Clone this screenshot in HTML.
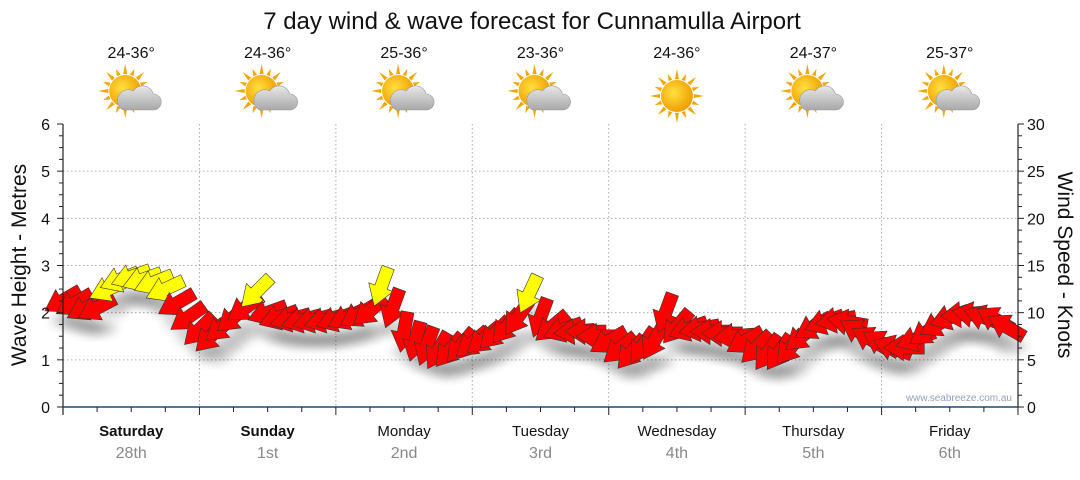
<!DOCTYPE html>
<html><head><meta charset="utf-8"><style>
html,body{margin:0;padding:0;background:#fff;}
body{width:1080px;height:475px;overflow:hidden;font-family:"Liberation Sans",sans-serif;}
</style></head><body>
<svg id="chart" width="1080" height="475" xmlns="http://www.w3.org/2000/svg">
<defs>
<radialGradient id="sung" cx="0.4" cy="0.4" r="0.6"><stop offset="0" stop-color="#ffe040"/><stop offset="1" stop-color="#f0a000"/></radialGradient>
<linearGradient id="cloudg" x1="0" y1="0" x2="0" y2="1"><stop offset="0" stop-color="#e8e8e8"/><stop offset="1" stop-color="#a8a8a8"/></linearGradient>
<filter id="sh" x="-50%" y="-50%" width="200%" height="200%"><feGaussianBlur stdDeviation="5"/></filter>
</defs>
<text x="532" y="29" font-size="24" text-anchor="middle" fill="#111">7 day wind &amp; wave forecast for Cunnamulla Airport</text>
<g id="grid"></g>
<g id="shadows"></g>
<g id="arrows"></g>
<g id="axes"></g>
<text x="1012" y="401" font-size="10" text-anchor="end" fill="#8fa3bd">www.seabreeze.com.au</text>
<text transform="translate(26,265) rotate(-90)" font-size="21" text-anchor="middle" fill="#111">Wave Height - Metres</text>
<text transform="translate(1058,265) rotate(90)" font-size="21" text-anchor="middle" fill="#111">Wind Speed - Knots</text>
</svg>
<script>
const days = ["Saturday","Sunday","Monday","Tuesday","Wednesday","Thursday","Friday"];
const dates = ["28th","1st","2nd","3rd","4th","5th","6th"];
const temps = ["24-36°","24-36°","25-36°","23-36°","24-36°","24-37°","25-37°"];
const icons = ["partly","partly","partly","partly","sunny","partly","partly"];
const waveTicks = [0,1,2,3,4,5,6];
const windTicks = [0,5,10,15,20,25,30];
// wind speed (knots), 2-hourly
const windSpeed = [
11.3,11,10.5,10.5,12.5,13.5,13.8,13.5,13.2,12.5,11,9.5,
8.2,7.5,8.5,9.5,10.5,12.2,10,9.5,9.3,9.2,9.2,9.2,
9.3,9.5,9.8,10.2,12.8,10.5,8,7,6.5,6,6,6.5,
6.8,7.2,7.8,8.5,9.5,12,9.5,8.5,8.2,8,8,7.5,
7,6.2,5.8,6.5,7,10,8.5,8.3,8.3,8,7.8,7.5,
7,6.3,5.8,5.8,6.3,7.5,8.5,9,9.2,9,8,7.2,
6.8,6.3,6.3,7.2,8,8.8,9.5,9.8,9.8,9.5,9.3,8.5];
// direction the arrow points (compass degrees, 180=south, 270=west)
const windDir = [
240,240,242,242,245,248,250,250,248,245,240,235,
225,225,230,230,235,225,250,250,255,255,255,255,
250,245,240,230,200,200,190,195,200,210,220,220,
230,230,225,220,215,205,200,230,250,265,270,270,
240,230,220,215,210,200,220,250,260,270,270,265,
240,225,215,215,220,230,240,250,260,280,300,300,
300,290,270,250,235,240,250,265,280,290,300,300];
const stepHours = 2;

const NS="http://www.w3.org/2000/svg";
const X0=63,X1=1018,Y0=407,Y1=124,totalH=168;
const xScale=h=>X0+(X1-X0)*h/totalH;
const yWave=v=>Y0-(Y0-Y1)*v/6;
const yWind=v=>Y0-(Y0-Y1)*v/30;
function mk(tag,attrs,parent){const e=document.createElementNS(NS,tag);for(const k in attrs)e.setAttribute(k,attrs[k]);parent.appendChild(e);return e;}
const svg=document.getElementById('chart');
const grid=document.getElementById('grid'),axes=document.getElementById('axes');
waveTicks.forEach(t=>{if(t>0&&t<6){const l=mk('line',{x1:X0,x2:X1,y1:yWave(t),y2:yWave(t),stroke:'#aaa','stroke-dasharray':'1.5,2.5'},grid);

}});
for(let d=1;d<7;d++){const x=xScale(d*24);const l=mk('line',{x1:x,x2:x,y1:Y1,y2:Y0,stroke:'#aaa','stroke-dasharray':'1.5,2.5'},grid);

}
mk('line',{x1:X0,x2:X0,y1:Y1,y2:Y0+8,stroke:'#222','stroke-width':1.2},axes);
mk('line',{x1:X1,x2:X1,y1:Y1,y2:Y0,stroke:'#222','stroke-width':1.2},axes);
mk('line',{x1:X0,x2:X1,y1:Y0,y2:Y0,stroke:'#1a4a7a','stroke-width':1.5},axes);
for(let v=0;v<=6.001;v+=0.25){const y=yWave(v);const major=Math.abs(v-Math.round(v))<0.01;mk('line',{x1:X0-(major?6:4),x2:X0,y1:y,y2:y,stroke:'#222'},axes);}
for(let v=0;v<=30.001;v+=1.25){const y=yWind(v);const major=Math.abs(v/5-Math.round(v/5))<0.01;mk('line',{x1:X1,x2:X1+(major?6:4),y1:y,y2:y,stroke:'#222'},axes);}
waveTicks.forEach(t=>{const e=mk('text',{x:50,y:yWave(t)+6,'font-size':16,'text-anchor':'end',fill:'#111'},axes);e.textContent=t;

});
windTicks.forEach(t=>{const e=mk('text',{x:1027,y:yWind(t)+6,'font-size':16,fill:'#111'},axes);e.textContent=t;

});
for(let h=0;h<=totalH;h+=6){const x=xScale(h);mk('line',{x1:x,x2:x,y1:Y0,y2:Y0+(h%24==0?8:5),stroke:'#222'},axes);}
days.forEach((d,i)=>{const cx=xScale(i*24+12);
const t=mk('text',{x:cx,y:436,'font-size':15,'text-anchor':'middle',fill:'#111','font-weight':i<2?'bold':'normal'},svg);t.textContent=d;


const dt=mk('text',{x:cx,y:458,'font-size':16,'text-anchor':'middle',fill:'#888'},svg);dt.textContent=dates[i];


const tp=mk('text',{x:cx,y:58,'font-size':16,'text-anchor':'middle',fill:'#111'},svg);tp.textContent=temps[i];


const g=mk('g',{transform:`translate(${cx},96)`},svg);


const sx=icons[i]=='sunny'?0:-6, sy=icons[i]=='sunny'?0:-5;
for(let a=0;a<16;a++){const ang=a*Math.PI/8;const r1=17,r2=a%2?24:27;
mk('polygon',{points:`${sx+Math.cos(ang-0.12)*r1},${sy+Math.sin(ang-0.12)*r1} ${sx+Math.cos(ang)*r2},${sy+Math.sin(ang)*r2} ${sx+Math.cos(ang+0.12)*r1},${sy+Math.sin(ang+0.12)*r1}`,fill:'#f3a500'},g);}
mk('circle',{cx:sx,cy:sy,r:16,fill:'url(#sung)'},g);
if(icons[i]!='sunny'){
mk('path',{d:'M-8,14 h30 a8,8 0 0 0 0,-16 a11,11 0 0 0 -20,-3 a8,8 0 0 0 -10,19 z',fill:'url(#cloudg)',stroke:'#999','stroke-width':0.6},g);}
});
const sh=document.getElementById('shadows'),ar=document.getElementById('arrows');
windSpeed.forEach((s,i)=>{const h=i*stepHours;const x=xScale(h),y=yWind(s);
const rot=windDir[i]-90;
const sd=mk('ellipse',{cx:x+4,cy:y+20,rx:16,ry:7,fill:'#000',opacity:0.2,filter:'url(#sh)'},sh);


const p=mk('polygon',{points:'-20,-6.5 1,-6.5 1,-13 21,0 1,13 1,6.5 -20,6.5',transform:`translate(${x},${y}) rotate(${rot})`,fill:s>=12?'#ffff00':'#ff0000',stroke:'#333','stroke-width':0.6},ar);


});
</script>
</body></html>
